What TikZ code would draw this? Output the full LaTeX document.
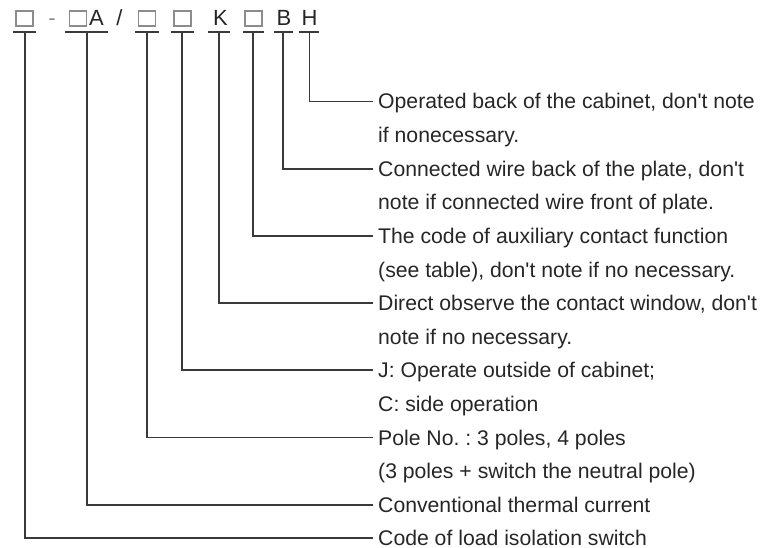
\documentclass[tikz,border=0pt]{standalone}
\usepackage{fontspec}
\setmainfont{Liberation Sans}
\definecolor{linec}{HTML}{3A3A3A}
\definecolor{boxc}{HTML}{8C8C8C}
\definecolor{textc}{HTML}{262626}
\newcommand\apos{\textquotesingle}
\begin{document}
\frenchspacing
\begin{tikzpicture}[x=1pt,y=-1pt,
  conn/.style={draw=linec, line width=1.7pt},
  ulin/.style={draw=linec, line width=1.7pt},
  phbox/.style={draw=boxc, line width=1.1pt, minimum width=17pt, minimum height=15pt, inner sep=0pt},
  codech/.style={text=textc, inner sep=0pt, anchor=base, font=\fontsize{22}{26}\selectfont},
  lab/.style={anchor=west, inner xsep=5pt, inner ysep=0pt, text height=15pt, text depth=0pt, text=textc, font=\fontsize{21.2}{25}\selectfont}
]
\useasboundingbox (0,0) rectangle (763,548);
% code row
\node[phbox] (b1) at (24.5,18.5) {};
\node[codech, text=boxc] (dash) at (52,26) {-};
\node[phbox] (b2) at (78,18.5) {};
\node[codech] (cA) at (96.5,26) {A};
\node[codech] (slash) at (119.5,26) {/};
\node[phbox] (b3) at (147,18.5) {};
\node[phbox] (b4) at (182.5,18.5) {};
\node[codech] (cK) at (220.5,26) {K};
\node[phbox] (b6) at (253.5,18.5) {};
\node[codech] (cB) at (284,26) {B};
\node[codech] (cH) at (309.5,26) {H};
% underlines
\coordinate (u1l) at (13,32);  \coordinate (u1r) at (36,32);  \coordinate (t1) at (25,32);
\coordinate (u2l) at (65,32);  \coordinate (u2r) at (108,32); \coordinate (t2) at (87,32);
\coordinate (u3l) at (135,32); \coordinate (u3r) at (159,32); \coordinate (t3) at (147,32);
\coordinate (u4l) at (171,32); \coordinate (u4r) at (194,32); \coordinate (t4) at (182,32);
\coordinate (u5l) at (208,32); \coordinate (u5r) at (230,32); \coordinate (t5) at (219,32);
\coordinate (u6l) at (243,32); \coordinate (u6r) at (264,32); \coordinate (t6) at (253,32);
\coordinate (u7l) at (274,32); \coordinate (u7r) at (293,32); \coordinate (t7) at (283,32);
\coordinate (u8l) at (299,32); \coordinate (u8r) at (319,32); \coordinate (t8) at (309.5,32);
\foreach \i in {1,...,8} { \draw[ulin] (u\i l) -- (u\i r); }
% labels
\node[lab] (l1)  at (373,101.5) {Operated back of the cabinet, don\apos t note};
\node[lab] (l2)  at (373,135.1) {if nonecessary.};
\node[lab] (l3)  at (373,168.7) {Connected wire back of the plate, don\apos t};
\node[lab] (l4)  at (373,202.3) {note if connected wire front of plate.};
\node[lab] (l5)  at (373,235.9) {The code of auxiliary contact function};
\node[lab] (l6)  at (373,269.5) {(see table), don\apos t note if no necessary.};
\node[lab] (l7)  at (373,303.1) {Direct observe the contact window, don\apos t};
\node[lab] (l8)  at (373,336.7) {note if no necessary.};
\node[lab] (l9)  at (373,370.3) {J: Operate outside of cabinet;};
\node[lab] (l10) at (373,403.9) {C: side operation};
\node[lab] (l11) at (373,437.5) {Pole No. : 3 poles, 4 poles};
\node[lab] (l12) at (373,471.1) {(3 poles + switch the neutral pole)};
\node[lab] (l13) at (373,504.7) {Conventional thermal current};
\node[lab] (l14) at (373,538.3) {Code of load isolation switch};
% connectors
\draw[conn] (t8) |- (l1.west);
\draw[conn] (t7) |- (l3.west);
\draw[conn] (t6) |- (l5.west);
\draw[conn] (t5) |- (l7.west);
\draw[conn] (t4) |- (l9.west);
\draw[conn] (t3) |- (l11.west);
\draw[conn] (t2) |- (l13.west);
\draw[conn] (t1) |- (l14.west);
\end{tikzpicture}
\end{document}
